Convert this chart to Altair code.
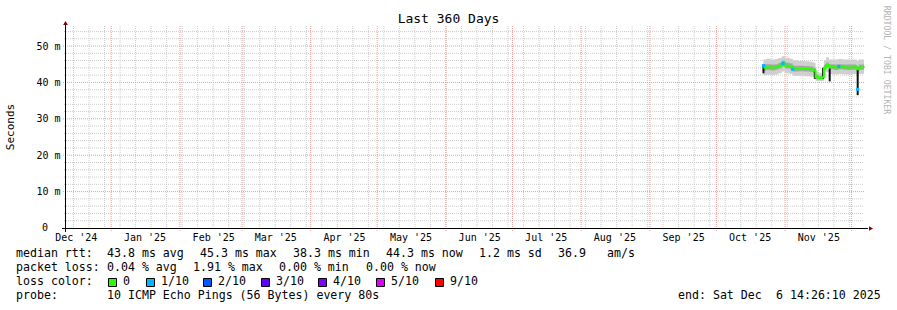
import altair as alt
import pandas as pd

# ---------------- data ----------------
title_text = "Last 360 Days"
y_title = "Seconds"
credit = "RRDTOOL / TOBI OETIKER"

x_start = "2024-12-11T14:26:10Z"
x_end = "2025-12-06T14:26:10Z"
y_max = 55.5

y_ticks = [10, 20, 30, 40, 50]
y_zero_label = "0"
month_label_dates = ["2024-12-16", "2025-01-16", "2025-02-16", "2025-03-16",
                     "2025-04-16", "2025-05-16", "2025-06-16", "2025-07-16",
                     "2025-08-16", "2025-09-16", "2025-10-16", "2025-11-16"]

smoke_dates = [
    "2025-10-22T06:00:00Z", "2025-10-23T12:00:00Z", "2025-10-25T12:00:00Z",
    "2025-10-27T12:00:00Z", "2025-10-29T00:00:00Z", "2025-10-30T12:00:00Z",
    "2025-11-01T00:00:00Z", "2025-11-03T00:00:00Z", "2025-11-04T12:00:00Z",
    "2025-11-07T00:00:00Z", "2025-11-09T12:00:00Z", "2025-11-12T00:00:00Z",
    "2025-11-13T18:00:00Z", "2025-11-14T18:00:00Z", "2025-11-16T00:00:00Z",
    "2025-11-17T12:00:00Z", "2025-11-18T12:00:00Z", "2025-11-19T12:00:00Z",
    "2025-11-20T18:00:00Z", "2025-11-23T00:00:00Z", "2025-11-25T00:00:00Z",
    "2025-11-27T00:00:00Z", "2025-11-29T00:00:00Z", "2025-12-01T00:00:00Z",
    "2025-12-03T00:00:00Z", "2025-12-03T12:00:00Z", "2025-12-04T06:00:00Z",
    "2025-12-05T12:00:00Z", "2025-12-06T14:00:00Z",
]
median_rtt = [44.0, 44.2, 44.1, 44.2, 44.6, 45.3, 44.6, 44.4, 43.7, 43.8,
              43.7, 43.6, 43.3, 41.5, 41.2, 41.4, 44.0, 44.8, 44.3, 44.1,
              44.3, 44.2, 44.1, 44.2, 44.0, 43.6, 44.1, 44.2, 44.1]
outer_lo = [42.0, 42.1, 42.0, 42.2, 42.5, 43.0, 42.5, 42.3, 41.8, 41.8,
            41.7, 41.6, 41.4, 40.4, 40.3, 40.4, 42.1, 42.8, 42.3, 42.2,
            42.3, 42.2, 42.2, 42.3, 42.2, 41.8, 42.3, 42.3, 42.2]
outer_hi = [46.3, 46.5, 46.3, 46.4, 46.7, 47.2, 46.8, 46.5, 46.1, 45.9,
            45.8, 45.7, 45.4, 43.0, 42.5, 42.6, 46.1, 46.9, 46.3, 46.3,
            46.4, 46.3, 46.3, 46.3, 46.2, 45.9, 46.3, 46.3, 46.3]
inner_lo = [43.2, 43.4, 43.3, 43.5, 43.8, 44.4, 43.8, 43.6, 43.0, 43.1,
            43.0, 42.9, 42.6, 40.9, 40.8, 40.9, 43.3, 44.0, 43.6, 43.4,
            43.6, 43.5, 43.4, 43.5, 43.3, 43.0, 43.4, 43.5, 43.4]
inner_hi = [44.9, 45.0, 44.9, 45.0, 45.3, 46.0, 45.4, 45.2, 44.6, 44.6,
            44.5, 44.4, 44.1, 42.2, 41.8, 41.9, 44.8, 45.5, 45.0, 44.9,
            45.0, 44.9, 44.9, 44.9, 44.8, 44.4, 44.9, 44.9, 44.9]

spike_dates = ["2025-10-22T06:00:00Z", "2025-11-14T10:00:00Z", "2025-11-18T03:00:00Z",
               "2025-11-21T03:00:00Z", "2025-12-03T18:00:00Z"]
spike_lo = [42.5, 41.0, 41.0, 40.3, 36.5]
spike_hi = [45.0, 43.5, 44.0, 43.8, 44.0]

loss1_dates = ["2025-10-22T09:00:00Z", "2025-10-31T00:00:00Z", "2025-11-04T10:00:00Z",
               "2025-11-25T05:00:00Z", "2025-12-03T19:00:00Z"]
loss1_vals = [44.6, 45.2, 43.6, 44.4, 38.1]

rtt_labels = ["median rtt:", "43.8 ms avg", "45.3 ms max", "38.3 ms min",
              "44.3 ms now", "1.2 ms sd", "36.9", "am/s"]
pl_labels = ["packet loss:", "0.04 % avg", "1.91 % max", "0.00 % min", "0.00 % now"]
lc_title = "loss color:"
loss_names = ["0", "1/10", "2/10", "3/10", "4/10", "5/10", "9/10"]
loss_colors = ["#26ff00", "#00b8ff", "#0059ff", "#5e00ff", "#7e00ff", "#dd00ff", "#ff0000"]
probe_labels = ["probe:", "10 ICMP Echo Pings (56 Bytes) every 80s",
                "end: Sat Dec", "6 14:26:10 2025"]

# ---------------- layout / style ----------------
W, H = 798, 202
PL, PT = 66, 26
MONO = "DejaVu Sans Mono"
GRID_GRAY = "#cccccc"
GRID_RED = "#f29a9a"
ARROW = "#800000"


def ms(s):
    t = pd.Timestamp(s)
    if t.tzinfo is None:
        t = t.tz_localize("UTC")
    return int(t.value // 10**6)


xscale = alt.Scale(type="utc", domain=[ms(x_start), ms(x_end)])
yscale = alt.Scale(domain=[0, y_max], nice=False, zero=False)

xaxis = alt.Axis(values=[ms(d) for d in month_label_dates],
                 labelExpr="utcFormat(datum.value, \"%b '%y\")",
                 title=None, grid=False, ticks=False, domain=False,
                 labelFont=MONO, labelFontSize=10, labelColor="#000000",
                 labelPadding=4, labelOverlap=False, labelFlush=False)
yaxis = alt.Axis(values=y_ticks,
                 labelExpr="datum.value + ' m'",
                 title=None, grid=False, ticks=False, domain=False,
                 labelFont=MONO, labelFontSize=10, labelColor="#000000",
                 labelPadding=6)


def X(f="date"):
    return alt.X(f + ":T", scale=xscale, axis=xaxis)


def Y(f):
    return alt.Y(f + ":Q", scale=yscale, axis=yaxis)


one = alt.Data(values=[{"k": 0}])

# grid
weeks = pd.date_range("2024-12-15", "2025-12-06", freq="W-SUN")
months = pd.date_range("2025-01-01", "2025-12-01", freq="MS")
wk_df = pd.DataFrame({"date": [d.strftime("%Y-%m-%dT00:00:00Z") for d in weeks]})
mo_df = pd.DataFrame({"date": [d.strftime("%Y-%m-%dT00:00:00Z") for d in months]})
hmin_df = pd.DataFrame({"v": [v for v in range(2, 56, 2) if v % 10 != 0]})
hmaj_df = pd.DataFrame({"v": [10, 20, 30, 40, 50]})

layers = []
layers.append(alt.Chart(wk_df).mark_rule(color=GRID_GRAY, strokeDash=[1, 1], strokeWidth=1)
              .encode(x=X(), y=alt.value(0), y2=alt.value(H + 2)))
layers.append(alt.Chart(hmin_df).mark_rule(color=GRID_GRAY, strokeDash=[1, 1], strokeWidth=1)
              .encode(y=Y("v"), x=alt.value(-2), x2=alt.value(W)))
layers.append(alt.Chart(mo_df).mark_rule(color=GRID_RED, strokeDash=[1, 1], strokeWidth=1)
              .encode(x=X(), y=alt.value(0), y2=alt.value(H + 3)))
layers.append(alt.Chart(hmaj_df).mark_rule(color=GRID_RED, strokeDash=[1, 1], strokeWidth=1)
              .encode(y=Y("v"), x=alt.value(-3), x2=alt.value(W)))

# smoke
smoke_df = pd.DataFrame({"date": smoke_dates, "med": median_rtt,
                         "olo": outer_lo, "ohi": outer_hi,
                         "ilo": inner_lo, "ihi": inner_hi})
layers.append(alt.Chart(smoke_df).mark_area(color="#cfcfcf", interpolate="step-after")
              .encode(x=X(), y=Y("olo"), y2="ohi:Q"))
layers.append(alt.Chart(smoke_df).mark_area(color="#a6a6a6", interpolate="step-after")
              .encode(x=X(), y=Y("ilo"), y2="ihi:Q"))

spk_df = pd.DataFrame({"date": spike_dates, "lo": spike_lo, "hi": spike_hi})
layers.append(alt.Chart(spk_df).mark_rule(color="#111111", strokeWidth=2)
              .encode(x=X(), y=Y("lo"), y2="hi:Q"))

layers.append(alt.Chart(smoke_df).mark_line(color=loss_colors[0], strokeWidth=2,
                                            interpolate="step-after")
              .encode(x=X(), y=Y("med")))

l1_df = pd.DataFrame({"date": loss1_dates, "v": loss1_vals})
layers.append(alt.Chart(l1_df).mark_square(color=loss_colors[1], opacity=1, size=10)
              .encode(x=X(), y=Y("v")))

# axes and arrows
layers.append(alt.Chart(one).mark_rule(color="#000000", strokeWidth=1)
              .encode(x=alt.value(-4), x2=alt.value(W + 4), y=alt.value(H + 0.5)))
layers.append(alt.Chart(one).mark_rule(color="#000000", strokeWidth=1)
              .encode(x=alt.value(-0.5), y=alt.value(H + 4), y2=alt.value(-2)))
layers.append(alt.Chart(one).mark_point(shape="triangle-right", filled=True, color=ARROW,
                                        size=22, opacity=1)
              .encode(x=alt.value(W + 7), y=alt.value(H + 0.5)))
layers.append(alt.Chart(one).mark_point(shape="triangle-up", filled=True, color=ARROW,
                                        size=22, opacity=1)
              .encode(x=alt.value(-0.5), y=alt.value(-3)))


def txt(s, x, y, size=11.6, color="#000000", align="left", angle=0, font=MONO):
    return (alt.Chart(one)
            .mark_text(font=font, fontSize=size, color=color, align=align,
                       baseline="middle", angle=angle)
            .encode(x=alt.value(x - PL), y=alt.value(y - PT), text=alt.value(s)))


layers.append(txt(y_zero_label, 48, 228, size=10, align="right"))
layers.append(txt(title_text, 448.5, 19, size=13, align="center"))
layers.append(txt(y_title, 11, 127, size=11, align="center", angle=270))
layers.append(txt(credit, 886, 60, size=8.2, color="#b4b4b4", align="center", angle=90))

rtt_x = [16, 107, 200, 293, 386, 479, 558, 607]
for s, x in zip(rtt_labels, rtt_x):
    layers.append(txt(s, x, 254))
pl_x = [16, 107, 193, 279, 366]
for s, x in zip(pl_labels, pl_x):
    layers.append(txt(s, x, 268))
layers.append(txt(lc_title, 16, 282))
sq_x = [108, 146, 203, 261, 318, 376, 435]
lab_x = [123, 161, 218, 276, 333, 391, 450]
for name, col, sx, lx in zip(loss_names, loss_colors, sq_x, lab_x):
    layers.append(alt.Chart(one).mark_square(fill=col, stroke="#000000", strokeWidth=1,
                                             size=64, opacity=1)
                  .encode(x=alt.value(sx + 4.5 - PL), y=alt.value(282.5 - PT)))
    layers.append(txt(name, lx, 282))
probe_x = [16, 107, 678, 776]
for s, x in zip(probe_labels, probe_x):
    layers.append(txt(s, x, 296))

chart = (alt.layer(*layers)
         .properties(width=W, height=H,
                     autosize=alt.AutoSizeParams(type="none"),
                     padding={"left": PL, "top": PT, "right": 897 - PL - W,
                              "bottom": 310 - PT - H},
                     background="#ffffff")
         .configure_view(stroke=None))

chart.save("out.html", embed_options={"renderer": "svg", "actions": False})
